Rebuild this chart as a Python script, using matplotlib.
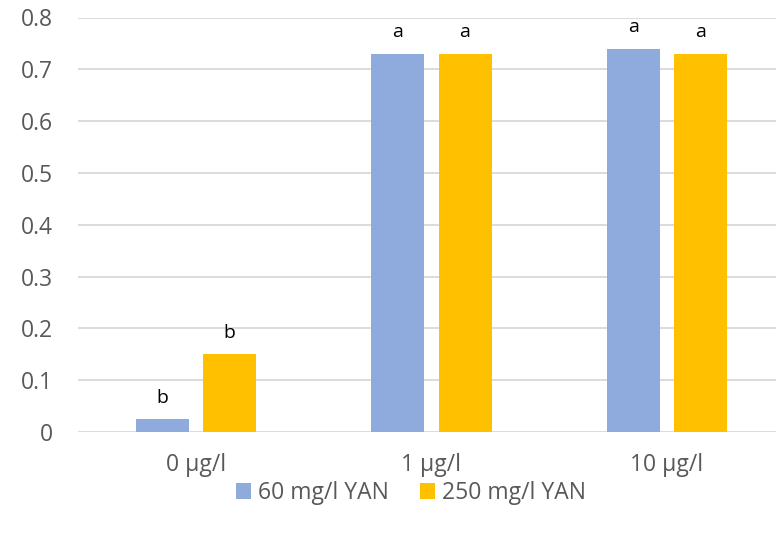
import matplotlib.pyplot as plt
import numpy as np

categories = ['0 µg/l', '1 µg/l', '10 µg/l']
yan60 = [0.025, 0.73, 0.74]
yan250 = [0.15, 0.73, 0.73]
letters60 = ['b', 'a', 'a']
letters250 = ['b', 'a', 'a']

plt.rcParams['font.family'] = ['Open Sans', 'DejaVu Sans']

fig = plt.figure(figsize=(7.76, 5.33), dpi=100)
ax = fig.add_axes([78 / 776, 101 / 533, 698 / 776, 414.5 / 533])

x = np.arange(len(categories))
w = 0.225
off = 0.143
b1 = ax.bar(x - off, yan60, w, color='#8faadc', label='60 mg/l YAN')
b2 = ax.bar(x + off, yan250, w, color='#ffc000', label='250 mg/l YAN')

for bars, letters in ((b1, letters60), (b2, letters250)):
    for rect, t in zip(bars, letters):
        ax.annotate(t, (rect.get_x() + rect.get_width() / 2, rect.get_height()),
                    xytext=(0, 9), textcoords='offset points',
                    ha='center', va='bottom', fontsize=14, color='black')

ax.set_xlim(-0.5, 2.463)
ax.set_ylim(0, 0.8)
ax.set_yticks(np.arange(0, 0.81, 0.1))
ax.set_yticklabels(['0'] + [f'{v:.1f}' for v in np.arange(0.1, 0.81, 0.1)])
ax.set_xticks(x)
ax.set_xticklabels(categories)
ax.tick_params(length=0, labelsize=16.5, colors='#595959')
ax.tick_params(axis='y', pad=18)
ax.tick_params(axis='x', pad=15)
ax.yaxis.grid(True, color='#d9d9d9', linewidth=1.3)
ax.set_axisbelow(True)
for s in ax.spines.values():
    s.set_visible(False)

fig.legend(loc='center', bbox_to_anchor=(411 / 776, 1 - 493 / 533), ncol=2,
           frameon=False, fontsize=16.5, labelcolor='#595959',
           handlelength=0.65, handleheight=0.65, handletextpad=0.3, columnspacing=1.35)

fig.savefig('out.png', dpi=100)
